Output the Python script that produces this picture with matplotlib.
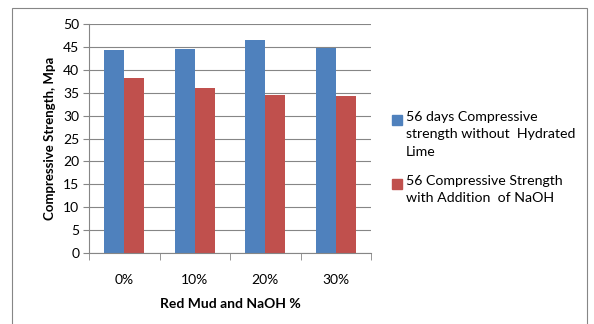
import matplotlib.pyplot as plt
import numpy as np

plt.rcParams['font.family'] = ['Lato', 'DejaVu Sans']

categories = ['0%', '10%', '20%', '30%']
blue_vals = [44.3, 44.5, 46.4, 44.7]
red_vals = [38.2, 36.1, 34.4, 34.2]
series_names = ['56 days Compressive\nstrength without  Hydrated\nLime',
                '56 Compressive Strength\nwith Addition  of NaOH']
colors = ['#4F81BD', '#C0504D']

fig = plt.figure(figsize=(5.94, 3.24), dpi=100)
ax = fig.add_axes([89/594, 1 - 253/324, (371 - 89)/594, (253 - 24)/324])

x = np.arange(len(categories))
w = 0.285
ax.bar(x - w/2, blue_vals, w, color=colors[0])
ax.bar(x + w/2, red_vals, w, color=colors[1])

ax.set_xlim(-0.5, 3.5)
ax.set_ylim(0, 50)
ax.set_yticks(range(0, 51, 5))
ax.set_xticks(x)
ax.set_xticklabels(categories)
ax.set_xticks(np.arange(-0.5, 4, 1), minor=True)
ax.tick_params(axis='x', which='major', length=0, pad=15, labelsize=10)
ax.tick_params(axis='x', which='minor', length=5, color='#868686')
ax.tick_params(axis='y', length=4, color='#868686', labelsize=10, pad=3)
ax.yaxis.grid(True, color='#868686', linewidth=0.8)
ax.xaxis.grid(False)
ax.set_axisbelow(True)
for s in ['top', 'right']:
    ax.spines[s].set_visible(False)
for s in ['left', 'bottom']:
    ax.spines[s].set_color('#868686')

ax.set_xlabel('Red Mud and NaOH %', fontweight='bold', fontsize=10, labelpad=9)
ax.set_ylabel('Compressive Strength, Mpa', fontweight='bold', fontsize=9.5, labelpad=5)

# legend: square handle next to the first line of each entry
leg_tops = [115, 179]
for name, c, top in zip(series_names, colors, leg_tops):
    fig.patches.append(plt.Rectangle((392/594, 1 - (top + 10)/324), 10/594, 10/324,
                                     transform=fig.transFigure, color=c))
    fig.text(406/594, 1 - (top - 4)/324, name, fontsize=10.2, va='top', ha='left',
             linespacing=1.55)

# outer chart border
fig.patches.append(plt.Rectangle((12/594, -0.01), (587 - 12)/594, 1 - 8/324 + 0.01,
                                 transform=fig.transFigure, fill=False,
                                 edgecolor='#868686', linewidth=0.8))

plt.savefig('out.png', dpi=100)
